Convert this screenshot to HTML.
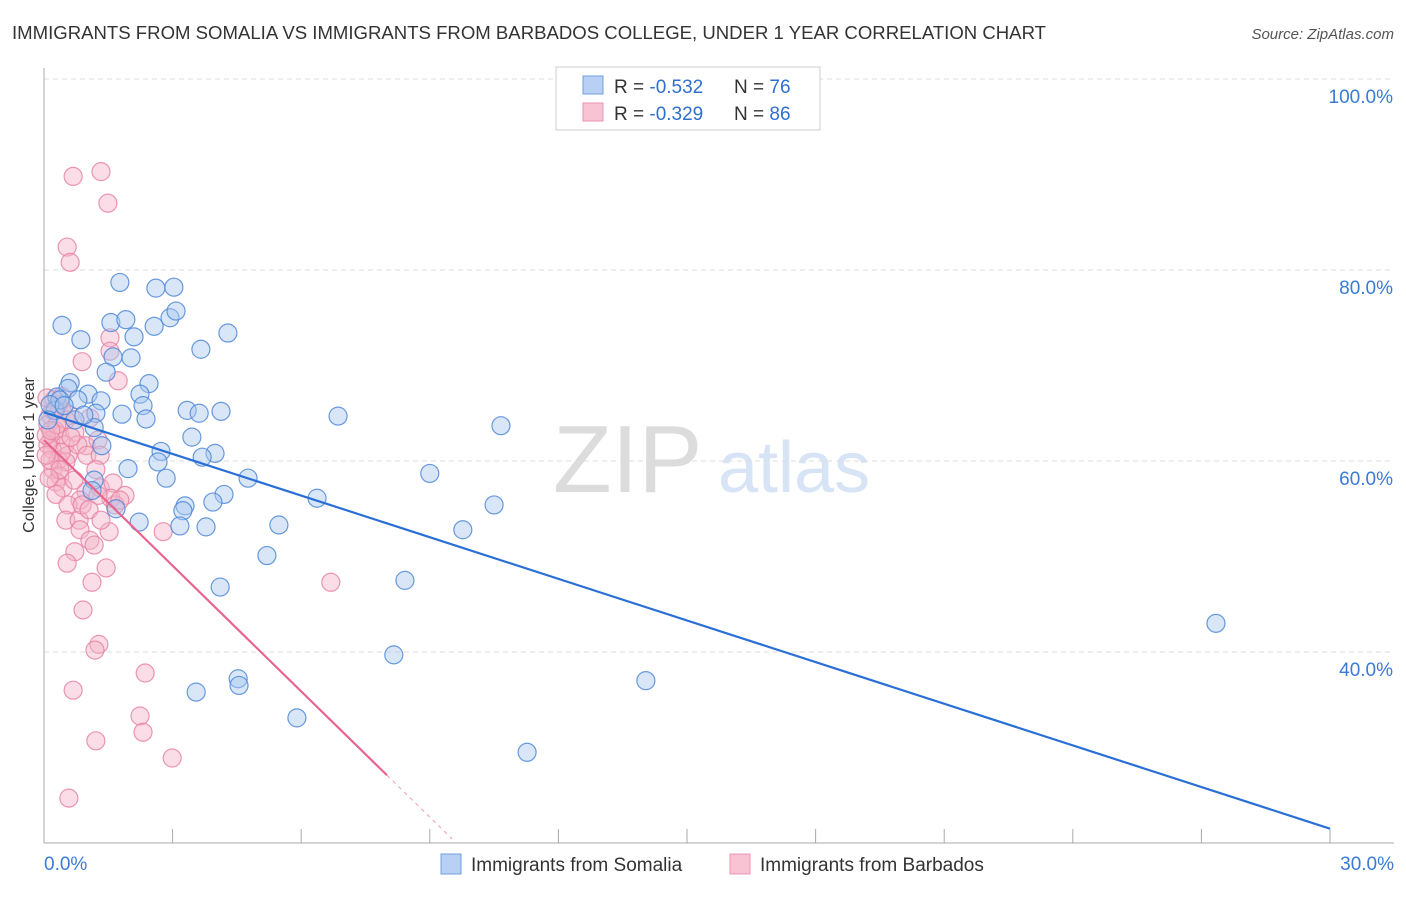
<!DOCTYPE html>
<html><head><meta charset="utf-8"><style>
body{margin:0;background:#fff;font-family:"Liberation Sans",sans-serif;}
svg text{font-family:"Liberation Sans",sans-serif;}
</style></head><body>
<svg width="1406" height="892" xmlns="http://www.w3.org/2000/svg">
<text x="12" y="39" font-size="18" fill="#333" textLength="1034" lengthAdjust="spacingAndGlyphs">IMMIGRANTS FROM SOMALIA VS IMMIGRANTS FROM BARBADOS COLLEGE, UNDER 1 YEAR CORRELATION CHART</text>
<text x="1394" y="39" font-size="15" fill="#555" font-style="italic" text-anchor="end">Source: ZipAtlas.com</text>
<g>
<text x="553" y="492" font-size="96" fill="#dcdcdc" font-family="Liberation Serif">ZIP</text>
<text x="718" y="492" font-size="72" fill="#d6e4f5">atlas</text>
</g>
<g id="grid"></g>
<g id="axes"></g>
<g id="marks"></g>
<text x="34" y="455" font-size="16" fill="#333" text-anchor="middle" transform="rotate(-90 34 455)">College, Under 1 year</text>
<g>
<rect x="556" y="67" width="264" height="63" fill="#fff" stroke="#ccc"/>
<rect x="583" y="76" width="20" height="18" fill="#b7d0f3" stroke="#6f9fe0"/>
<rect x="583" y="103" width="20" height="18" fill="#f8c3d3" stroke="#ec94b0"/>
<text x="614" y="93" font-size="19" fill="#333">R = <tspan fill="#2f6fd0">-0.532</tspan></text>
<text x="734" y="93" font-size="19" fill="#333">N = <tspan fill="#2f6fd0">76</tspan></text>
<text x="614" y="120" font-size="19" fill="#333">R = <tspan fill="#2f6fd0">-0.329</tspan></text>
<text x="734" y="120" font-size="19" fill="#333">N = <tspan fill="#2f6fd0">86</tspan></text>
</g>
<g>
<rect x="441" y="854" width="20" height="20" fill="#b7d0f3" stroke="#6f9fe0"/>
<text x="471" y="871" font-size="19" fill="#333">Immigrants from Somalia</text>
<rect x="730" y="854" width="20" height="20" fill="#f8c3d3" stroke="#ec94b0"/>
<text x="760" y="871" font-size="19" fill="#333">Immigrants from Barbados</text>
</g>
</svg>
<script>
const yTicks=[100,80,60,40];
const yTickLabels=["100.0%","80.0%","60.0%","40.0%"];
const xTicks=[0,3,6,9,12,15,18,21,24,27,30];
const xEndLabels=["0.0%","30.0%"];
const somaliaX=[1.77,2.61,3.03,0.42,1.56,1.91,2.57,2.94,3.08,4.29,0.86,2.10,3.66,1.61,2.03,1.45,2.45,0.61,0.56,0.30,1.03,1.33,0.79,2.24,2.31,3.34,3.62,4.13,1.82,1.21,2.38,6.86,10.66,0.72,1.17,3.45,3.99,3.69,1.35,2.73,2.66,1.96,9.00,2.85,4.76,1.17,1.12,4.20,6.37,3.94,3.29,3.24,10.50,1.68,2.22,3.17,3.78,5.48,9.77,5.20,4.11,8.42,27.34,8.16,4.53,4.55,3.55,14.04,5.90,11.27,0.26,0.37,0.14,0.09,0.47,0.93];
const somaliaY=[78.7,78.1,78.2,74.2,74.5,74.8,74.1,75.0,75.7,73.4,72.7,73.0,71.7,70.9,70.8,69.3,68.1,68.2,67.6,66.7,67.0,66.3,66.4,67.0,65.8,65.3,65.0,65.2,64.9,65.0,64.4,64.7,63.7,64.3,63.5,62.5,60.8,60.4,61.6,61.0,59.9,59.2,58.7,58.2,58.2,58.0,56.9,56.5,56.1,55.7,55.3,54.8,55.4,55.0,53.6,53.2,53.1,53.3,52.8,50.1,46.8,47.5,43.0,39.7,37.2,36.5,35.8,37.0,33.1,29.5,65.3,66.4,65.9,64.3,65.8,64.8];
const barbadosX=[1.33,0.68,1.49,0.54,0.61,1.54,1.54,0.89,1.73,0.23,0.33,0.42,0.14,0.61,0.51,0.09,0.26,0.37,0.72,1.07,0.98,1.26,0.16,0.49,0.19,0.56,0.33,0.51,0.79,1.00,1.31,0.21,0.37,0.28,0.44,0.98,1.31,1.61,1.89,1.56,0.28,0.84,0.56,1.66,0.51,0.82,0.84,1.52,2.78,1.07,1.17,0.72,0.54,1.45,1.12,6.69,0.91,1.28,1.19,2.36,0.68,2.24,2.31,1.21,2.99,0.58,0.40,0.09,0.21,0.14,0.37,0.05,1.77,1.26,0.07,0.89,1.21,0.70,0.12,1.05,1.33,0.05,0.30,0.63,0.42,0.16];
const barbadosY=[90.3,89.8,87.0,82.4,80.8,72.9,71.5,70.4,68.4,66.4,65.9,65.3,64.8,64.8,64.3,63.8,63.2,62.7,63.0,64.5,61.6,62.2,62.2,61.7,61.2,60.6,60.1,59.9,61.7,60.6,60.6,59.1,58.4,57.8,57.2,56.8,57.2,57.7,56.4,56.1,56.5,55.9,55.4,55.4,53.8,53.8,52.8,52.6,52.6,51.7,51.2,50.5,49.3,48.8,47.3,47.3,44.4,40.8,40.2,37.8,36.0,33.3,31.6,30.7,28.9,24.7,60.9,61.7,65.3,60.1,59.1,62.7,55.9,56.4,66.6,55.4,59.1,58.0,58.2,54.9,53.8,60.6,63.8,62.5,66.8,63.2];
const somaliaTrend=[65.1,21.5];
const barbadosTrend=[62.2,27.1];
const barbadosSolidEnd=8;
const barbadosDashEnd=9.52;

const NS="http://www.w3.org/2000/svg";
const X=v=>44+v*(1330-44)/30;
const Y=v=>79+(100-v)*9.55;
function mk(tag,attrs,parent){const e=document.createElementNS(NS,tag);for(const k in attrs)e.setAttribute(k,attrs[k]);parent.appendChild(e);return e;}
const grid=document.getElementById('grid'),axes=document.getElementById('axes'),marks=document.getElementById('marks');
yTicks.forEach((t,i)=>{
 const l=mk('line',{x1:44,x2:1394,y1:Y(t),y2:Y(t),stroke:'#ddd','stroke-dasharray':'5,4'},grid);
 
 
 const tx=mk('text',{x:1393,y:Y(t)+24,'font-size':19,fill:'#3a7bd5','text-anchor':'end'},axes);
 tx.textContent=yTickLabels[i];
 
 
});
const ax=mk('line',{x1:44,x2:44,y1:68,y2:843,stroke:'#aaa'},axes);


const bx=mk('line',{x1:44,x2:1394,y1:843,y2:843,stroke:'#aaa'},axes);


xTicks.forEach(t=>{
 const l=mk('line',{x1:X(t),x2:X(t),y1:829,y2:843,stroke:'#aaa'},axes);
 
 
});
[[0,'start',xEndLabels[0]],[30,'end',xEndLabels[1]]].forEach(([v,a,s])=>{
 const t=mk('text',{x:v===0?X(v):1394,y:870,'font-size':19,fill:'#3a7bd5','text-anchor':a},axes);
 t.textContent=s;
 
 
});
function dots(xs,ys,fill,stroke,name){
 xs.forEach((x,i)=>{
  const c=mk('circle',{cx:X(x),cy:Y(ys[i]),r:9,fill:fill,'fill-opacity':0.45,stroke:stroke,'stroke-width':1.2,'stroke-opacity':0.85},marks);
  
  
 });
}
dots(barbadosX,barbadosY,'#f5b3c7','#e884a4','barbados-point');
dots(somaliaX,somaliaY,'#a9c7ef','#4f88d8','somalia-point');
const tb=mk('line',{x1:X(0),y1:Y(somaliaTrend[0]),x2:X(30),y2:Y(somaliaTrend[1]),stroke:'#2a6fd6','stroke-width':2.2},marks);


const slope=(barbadosTrend[1]-barbadosTrend[0])/barbadosSolidEnd;
const tp=mk('line',{x1:X(0),y1:Y(barbadosTrend[0]),x2:X(barbadosSolidEnd),y2:Y(barbadosTrend[1]),stroke:'#e8648e','stroke-width':2.2},marks);


const td=mk('line',{x1:X(barbadosSolidEnd),y1:Y(barbadosTrend[1]),x2:X(barbadosDashEnd),y2:Y(barbadosTrend[0]+slope*barbadosDashEnd),stroke:'#e8a0b6','stroke-width':1,'stroke-dasharray':'4,4'},marks);


</script>
</body></html>
